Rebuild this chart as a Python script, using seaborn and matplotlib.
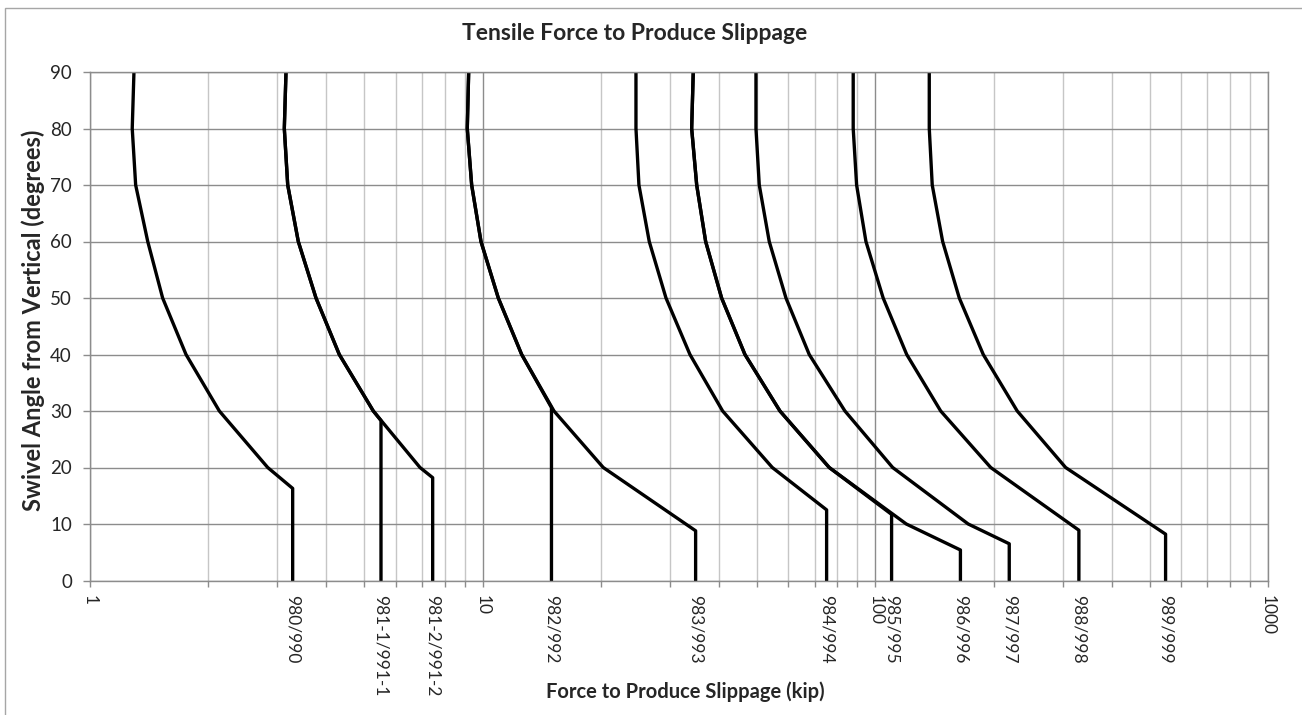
import numpy as np
import pandas as pd
import matplotlib
matplotlib.use("Agg")
import matplotlib.pyplot as plt
import seaborn as sns
from matplotlib.ticker import LogLocator, NullFormatter, FixedLocator
from matplotlib.patches import Rectangle

# Force (kip) vs swivel angle (deg) for each clamp curve
c980_force = [1.294, 1.281, 1.307, 1.403, 1.531, 1.756, 2.135, 2.835, 3.282, 3.282]
c980_angle = [90, 80, 70, 60, 50, 40, 30, 20, 16.3, 0]

c981_1_force = [3.156, 3.125, 3.188, 3.392, 3.763, 4.314, 5.266, 5.509, 5.509]
c981_1_angle = [90, 80, 70, 60, 50, 40, 30, 28.3, 0]

c981_2_force = [3.156, 3.125, 3.188, 3.392, 3.763, 4.314, 5.266, 6.924, 7.459, 7.459]
c981_2_angle = [90, 80, 70, 60, 50, 40, 30, 20, 18.2, 0]

c982_force = [9.212, 9.137, 9.375, 9.901, 10.96, 12.57, 14.97, 14.97]
c982_angle = [90, 80, 70, 60, 50, 40, 30.6, 0]

c983_force = [9.212, 9.137, 9.375, 9.901, 10.96, 12.57, 15.19, 20.28, 34.86, 34.86]
c983_angle = [90, 80, 70, 60, 50, 40, 30, 20, 8.8, 0]

c984_force = [24.57, 24.57, 25.00, 26.56, 29.30, 33.72, 40.84, 54.64, 75.15, 75.15]
c984_angle = [90, 80, 70, 60, 50, 40, 30, 20, 12.5, 0]

c985_force = [34.38, 34.06, 35.08, 36.97, 40.60, 46.55, 57.16, 76.30, 110.0, 110.0]
c985_angle = [90, 80, 70, 60, 50, 40, 30, 20, 11.7, 0]

c986_force = [34.38, 34.06, 35.08, 36.97, 40.60, 46.55, 57.16, 76.30, 119.9, 164.7, 164.7]
c986_angle = [90, 80, 70, 60, 50, 40, 30, 20, 10, 5.4, 0]

c987_force = [49.66, 49.66, 50.63, 53.68, 59.21, 67.87, 83.67, 110.7, 172.4, 219.3, 219.3]
c987_angle = [90, 80, 70, 60, 50, 40, 30, 20, 10, 6.5, 0]

c988_force = [87.83, 87.83, 89.60, 94.64, 104.7, 120.2, 146.7, 196.7, 329.9, 329.9]
c988_angle = [90, 80, 70, 60, 50, 40, 30, 20, 8.9, 0]

c989_force = [137.2, 137.2, 139.6, 148.4, 163.6, 188.3, 229.8, 305.2, 548.5, 548.5]
c989_angle = [90, 80, 70, 60, 50, 40, 30, 20, 8.2, 0]

curve_labels = ["980/990", "981-1/991-1", "981-2/991-2", "982/992", "983/993",
                "984/994", "985/995", "986/996", "987/997", "988/998", "989/999"]
forces = [c980_force, c981_1_force, c981_2_force, c982_force, c983_force,
          c984_force, c985_force, c986_force, c987_force, c988_force, c989_force]
angles = [c980_angle, c981_1_angle, c981_2_angle, c982_angle, c983_angle,
          c984_angle, c985_angle, c986_angle, c987_angle, c988_angle, c989_angle]

decades = [1, 10, 100, 1000]
decade_labels = ["1", "10", "100", "1000"]
y_ticks = [0, 10, 20, 30, 40, 50, 60, 70, 80, 90]

sns.set_style("white")
plt.rcParams["font.family"] = ["Lato", "DejaVu Sans"]

df = pd.concat(
    [pd.DataFrame({"force": f, "angle": a, "curve": n})
     for n, f, a in zip(curve_labels, forces, angles)],
    ignore_index=True,
)

fig = plt.figure(figsize=(13.02, 7.15), dpi=100)
ax = fig.add_axes([90 / 1302, 134.5 / 715, 1178 / 1302, 508.5 / 715])

grid_dark = "#8c8c8c"
grid_light = "#c6c6c6"

ax.set_axisbelow(True)

sns.lineplot(data=df, x="force", y="angle", units="curve", estimator=None,
             sort=False, color="black", linewidth=2.4, ax=ax, legend=False)

ax.set_xscale("log")
ax.set_xlim(1, 1000)
ax.set_ylim(0, 90)
ax.set_yticks(y_ticks)
ax.set_xlabel("")
ax.set_ylabel("")

# decade ticks plus one labelled tick where each curve hits zero
end_forces = [f[-1] for f in forces]
ax.xaxis.set_major_locator(FixedLocator(decades + end_forces))
ax.set_xticklabels(decade_labels + curve_labels, rotation=270,
                   ha="center", va="top", fontsize=12.5)
ax.xaxis.set_minor_locator(LogLocator(base=10, subs=np.arange(2, 10)))
ax.xaxis.set_minor_formatter(NullFormatter())

ax.tick_params(axis="x", which="both", direction="out", length=4, width=1,
               color=grid_dark, pad=6.5, bottom=True)
ax.tick_params(axis="y", direction="out", length=5, width=1, color=grid_dark,
               pad=8, labelsize=13.5, left=True)

ax.yaxis.grid(True, color=grid_dark, lw=1)
ax.xaxis.grid(True, which="major", color=grid_dark, lw=1)
ax.xaxis.grid(True, which="minor", color=grid_light, lw=1)
for tick in ax.xaxis.get_major_ticks()[len(decades):]:
    tick.tick1line.set_visible(False)
    tick.gridline.set_visible(False)

for side in ax.spines.values():
    side.set_color(grid_dark)
    side.set_linewidth(1)

fig.text(635 / 1302, 1 - 33 / 715, "Tensile Force to Produce Slippage",
         ha="center", va="center", fontsize=16.5, fontweight="bold")
fig.text(685 / 1302, 1 - 692 / 715, "Force to Produce Slippage (kip)",
         ha="center", va="center", fontsize=14.5, fontweight="bold")
fig.text(33 / 1302, 1 - 320 / 715, "Swivel Angle from Vertical (degrees)",
         ha="center", va="center", rotation=90, fontsize=17, fontweight="bold")

fig.patches.append(Rectangle((5 / 1302, -0.05), 1.2, 1.05 - 8 / 715,
                             transform=fig.transFigure, fill=False,
                             edgecolor="#a6a6a6", lw=1))

fig.savefig("out.png", dpi=100)
